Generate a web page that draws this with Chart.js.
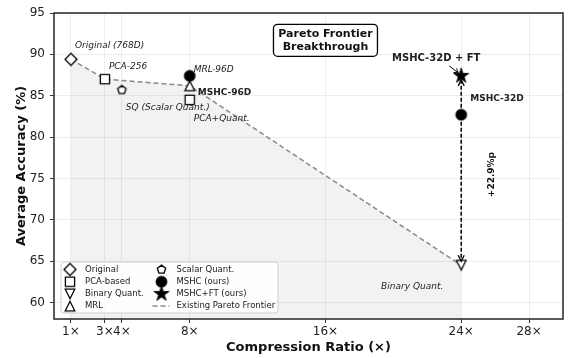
<!DOCTYPE html>
<html><head><meta charset="utf-8">
<script src="https://cdn.jsdelivr.net/npm/chart.js@4.4.1/dist/chart.umd.min.js"></script>
<style>html,body{margin:0;padding:0;background:#fff;overflow:hidden}</style>
</head><body><canvas id="c" width="570" height="358"></canvas>
<script>
// ---------- data ----------
const xTicks = [1, 3, 4, 8, 16, 24, 28];
const yTicks = [60, 65, 70, 75, 80, 85, 90, 95];
const seriesNames = ['Original', 'PCA-based', 'Binary Quant.', 'MRL', 'Scalar Quant.', 'MSHC (ours)', 'MSHC+FT (ours)', 'Existing Pareto Frontier'];
const originalPts = [{x: 1, y: 89.4}];
const pcaPts = [{x: 3, y: 87.0}, {x: 8, y: 84.5}];
const binaryPts = [{x: 24, y: 64.5}];
const mrlPts = [{x: 8, y: 86.2}];
const sqPts = [{x: 4, y: 85.7}];
const mshcPts = [{x: 8, y: 87.4}, {x: 24, y: 82.7}];
const mshcFtPts = [{x: 24, y: 87.4}];
const frontierPts = [{x: 1, y: 89.4}, {x: 3, y: 87.0}, {x: 8, y: 86.2}, {x: 24, y: 64.5}];
const pointNotes = ['Original (768D)', 'PCA-256', 'MRL-96D', 'MSHC-96D', 'SQ (Scalar Quant.)', 'PCA+Quant.', 'Binary Quant.', 'MSHC-32D + FT', 'MSHC-32D'];
const gainText = '+22.9%p';
const boxLines = ['Pareto Frontier', 'Breakthrough'];

// ---------- markers ----------
const FONT = "'DejaVu Sans', sans-serif";
function marker(kind, r, fill, lw) {
  const pad = 2;
  const S = Math.ceil(2 * r + 2 * pad);
  const c = document.createElement('canvas');
  c.width = S; c.height = S;
  const g = c.getContext('2d');
  const cx = S / 2, cy = S / 2;
  g.fillStyle = fill; g.strokeStyle = '#000'; g.lineWidth = lw; g.lineJoin = 'miter';
  g.beginPath();
  if (kind === 'diamond') {
    g.moveTo(cx, cy - r); g.lineTo(cx + r, cy); g.lineTo(cx, cy + r); g.lineTo(cx - r, cy);
  } else if (kind === 'square') {
    g.rect(cx - r, cy - r, 2 * r, 2 * r);
  } else if (kind === 'tridown') {
    g.moveTo(cx, cy + r); g.lineTo(cx - r, cy - r); g.lineTo(cx + r, cy - r);
  } else if (kind === 'triup') {
    g.moveTo(cx, cy - r); g.lineTo(cx + r, cy + r); g.lineTo(cx - r, cy + r);
  } else if (kind === 'pentagon') {
    for (let i = 0; i < 5; i++) {
      const a = -Math.PI / 2 + i * 2 * Math.PI / 5;
      g.lineTo(cx + r * Math.cos(a), cy + r * Math.sin(a));
    }
  } else if (kind === 'circle') {
    g.arc(cx, cy, r, 0, Math.PI * 2);
  } else if (kind === 'star') {
    for (let i = 0; i < 10; i++) {
      const a = -Math.PI / 2 + i * Math.PI / 5;
      const rr = i % 2 === 0 ? r : r * 0.382;
      g.lineTo(cx + rr * Math.cos(a), cy + rr * Math.sin(a));
    }
  }
  g.closePath();
  g.fill();
  if (lw > 0) g.stroke();
  return c;
}
const M = {
  diamond: marker('diamond', 6, '#fff', 1.3),
  square: marker('square', 4.6, '#fff', 1.3),
  tridown: marker('tridown', 4.8, '#fff', 1.3),
  triup: marker('triup', 4.8, '#fff', 1.3),
  pentagon: marker('pentagon', 4.4, '#fff', 1.3),
  circle: marker('circle', 5.5, '#000', 0.8),
  star: marker('star', 8, '#000', 0.8)
};

function pts(label, data, style, order) {
  return {label, data, pointStyle: style, pointRadius: 6, pointHoverRadius: 6, showLine: false, order,
    backgroundColor: '#000', borderColor: '#000'};
}

const datasets = [
  pts(seriesNames[0], originalPts, M.diamond, 1),
  pts(seriesNames[1], pcaPts, M.square, 1),
  pts(seriesNames[2], binaryPts, M.tridown, 1),
  pts(seriesNames[3], mrlPts, M.triup, 1),
  pts(seriesNames[4], sqPts, M.pentagon, 1),
  pts(seriesNames[5], mshcPts, M.circle, 1),
  pts(seriesNames[6], mshcFtPts, M.star, 0),
  {label: seriesNames[7], data: frontierPts, showLine: true, fill: 'start', tension: 0,
   borderColor: '#888', borderWidth: 1.5, borderDash: [5, 3], backgroundColor: 'rgba(0,0,0,0.05)',
   pointRadius: 0, pointHoverRadius: 0, order: 10}
];

// ---------- plugins ----------
function arrowHead(ctx, x, y, ang, len, wid) {
  ctx.beginPath();
  ctx.moveTo(x - len * Math.cos(ang) + wid * Math.sin(ang), y - len * Math.sin(ang) - wid * Math.cos(ang));
  ctx.lineTo(x, y);
  ctx.lineTo(x - len * Math.cos(ang) - wid * Math.sin(ang), y - len * Math.sin(ang) + wid * Math.cos(ang));
  ctx.stroke();
}

const framePlugin = {
  id: 'frame',
  afterDatasetsDraw(chart) {
    const {ctx, chartArea: a} = chart;
    ctx.save();
    ctx.strokeStyle = '#333'; ctx.lineWidth = 1.6;
    ctx.strokeRect(a.left, a.top, a.right - a.left, a.bottom - a.top);
    ctx.restore();
  }
};

const notesPlugin = {
  id: 'notes',
  afterDatasetsDraw(chart) {
    const {ctx, scales: {x, y}} = chart;
    const px = (d) => [x.getPixelForValue(d.x), y.getPixelForValue(d.y)];
    const txt = (s, p, dx, dy, font, align) => {
      ctx.font = font; ctx.textAlign = align || 'left'; ctx.textBaseline = 'middle'; ctx.fillStyle = '#222';
      ctx.fillText(s, p[0] + dx, p[1] + dy);
    };
    const it = 'italic 9px ' + FONT, bd = 'bold 9px ' + FONT;
    ctx.save();
    // vertical double arrow from MSHC+FT to Binary Quant.
    const top = px(mshcFtPts[0]), bot = px(binaryPts[0]);
    ctx.strokeStyle = '#000'; ctx.lineWidth = 1.5; ctx.setLineDash([4, 2]);
    ctx.beginPath(); ctx.moveTo(top[0], top[1] + 4); ctx.lineTo(bot[0], bot[1] - 4); ctx.stroke();
    ctx.setLineDash([]); ctx.lineWidth = 1.3;
    arrowHead(ctx, top[0], top[1] + 4, -Math.PI / 2, 6, 3);
    arrowHead(ctx, bot[0], bot[1] - 4, Math.PI / 2, 6, 3);
    // small arrow label -> star
    ctx.lineWidth = 1;
    ctx.beginPath(); ctx.moveTo(top[0] - 12, top[1] - 10); ctx.lineTo(top[0] - 3, top[1] - 3); ctx.stroke();
    arrowHead(ctx, top[0] - 3, top[1] - 3, Math.atan2(7, 9), 4, 2.5);

    txt(pointNotes[0], px(originalPts[0]), 4, -14, it);
    txt(pointNotes[1], px(pcaPts[0]), 4, -13, it);
    txt(pointNotes[2], px(mrlPts[0]), 4, -16, it);
    txt(pointNotes[3], px(mrlPts[0]), 8, 7, bd);
    txt(pointNotes[4], px(sqPts[0]), 4, 18, it);
    txt(pointNotes[5], px(pcaPts[1]), 4, 19, it);
    txt(pointNotes[6], px(binaryPts[0]), -49, 21, it, 'center');
    txt(pointNotes[7], px(mshcFtPts[0]), -25, -17, 'bold 10px ' + FONT, 'center');
    txt(pointNotes[8], px(mshcPts[1]), 9, -16, bd);
    // gain text (rotated)
    const mid = [top[0], (top[1] + bot[1]) / 2];
    ctx.save();
    ctx.translate(mid[0] + 30, mid[1] + 4);
    ctx.rotate(-Math.PI / 2);
    ctx.font = bd; ctx.textAlign = 'center'; ctx.textBaseline = 'middle'; ctx.fillStyle = '#111';
    ctx.fillText(gainText, 0, 0);
    ctx.restore();
    // Pareto box
    const bc = px({x: 16, y: 91.7});
    const bw = 104, bh = 32;
    ctx.beginPath();
    ctx.roundRect(bc[0] - bw / 2, bc[1] - bh / 2, bw, bh, 4);
    ctx.fillStyle = '#fff'; ctx.fill();
    ctx.strokeStyle = '#000'; ctx.lineWidth = 1.3; ctx.stroke();
    ctx.font = 'bold 11px ' + FONT; ctx.fillStyle = '#111'; ctx.textAlign = 'center'; ctx.textBaseline = 'middle';
    ctx.fillText(boxLines[0], bc[0], bc[1] - 6.5);
    ctx.fillText(boxLines[1], bc[0], bc[1] + 6.5);
    ctx.restore();
  }
};

const legendPlugin = {
  id: 'customLegend',
  afterDraw(chart) {
    const {ctx, chartArea: a} = chart;
    const ds = chart.data.datasets;
    ctx.save();
    const L = a.left + 7, T = a.bottom - 57, W = 217, H = 51;
    ctx.beginPath(); ctx.roundRect(L, T, W, H, 3);
    ctx.fillStyle = 'rgba(255,255,255,0.85)'; ctx.fill();
    ctx.strokeStyle = '#cfcfcf'; ctx.lineWidth = 1; ctx.stroke();
    const rows = [T + 7.5, T + 19.7, T + 31.9, T + 44.1];
    const cols = [{m: L + 9, t: L + 24}, {m: L + 100.5, t: L + 115.5}];
    ctx.font = '8.5px ' + FONT; ctx.textBaseline = 'middle'; ctx.textAlign = 'left'; ctx.fillStyle = '#222';
    for (let i = 0; i < 8; i++) {
      const c = cols[Math.floor(i / 4)], yy = rows[i % 4];
      const d = ds[i];
      if (d.pointStyle && typeof d.pointStyle === 'object') {
        const im = d.pointStyle;
        ctx.drawImage(im, c.m - im.width / 2, yy - im.height / 2);
      } else {
        ctx.save(); ctx.strokeStyle = '#888'; ctx.lineWidth = 1.5; ctx.setLineDash([5, 3]);
        ctx.beginPath(); ctx.moveTo(c.m - 9, yy); ctx.lineTo(c.m + 8, yy); ctx.stroke(); ctx.restore();
      }
      ctx.fillText(d.label, c.t, yy);
    }
    ctx.restore();
  }
};

new Chart(document.getElementById('c'), {
  type: 'scatter',
  data: {datasets},
  options: {
    responsive: false, animation: false, devicePixelRatio: 1,
    layout: {padding: {top: 13, right: 5, left: 0, bottom: 0}},
    plugins: {legend: {display: false}, tooltip: {enabled: false}},
    scales: {
      x: {
        type: 'linear', min: 0, max: 30,
        afterBuildTicks: s => { s.ticks = xTicks.map(v => ({value: v})); },
        afterFit: s => { s.height = 39; },
        ticks: {autoSkip: false, maxRotation: 0, minRotation: 0, padding: 2, color: '#222',
          font: {family: FONT, size: 12}, callback: v => v + '×'},
        grid: {color: '#e8e8e8', lineWidth: 0.8, drawTicks: true, tickLength: 4, tickColor: '#333', tickWidth: 1},
        border: {display: false},
        title: {display: true, text: 'Compression Ratio (×)', color: '#111',
          font: {family: FONT, size: 13, weight: 'bold'}, padding: {top: 0, bottom: 3}}
      },
      y: {
        type: 'linear', min: 58, max: 95,
        afterBuildTicks: s => { s.ticks = yTicks.map(v => ({value: v})); },
        afterFit: s => { s.width = 54; },
        ticks: {padding: 5, color: '#222', font: {family: FONT, size: 12}},
        grid: {color: '#e8e8e8', lineWidth: 0.8, drawTicks: true, tickLength: 4, tickColor: '#333', tickWidth: 1},
        border: {display: false},
        title: {display: true, text: 'Average Accuracy (%)', color: '#111',
          font: {family: FONT, size: 13, weight: 'bold'}, padding: {top: 14, bottom: 0}}
      }
    }
  },
  plugins: [framePlugin, notesPlugin, legendPlugin]
});
</script>
</body></html>
